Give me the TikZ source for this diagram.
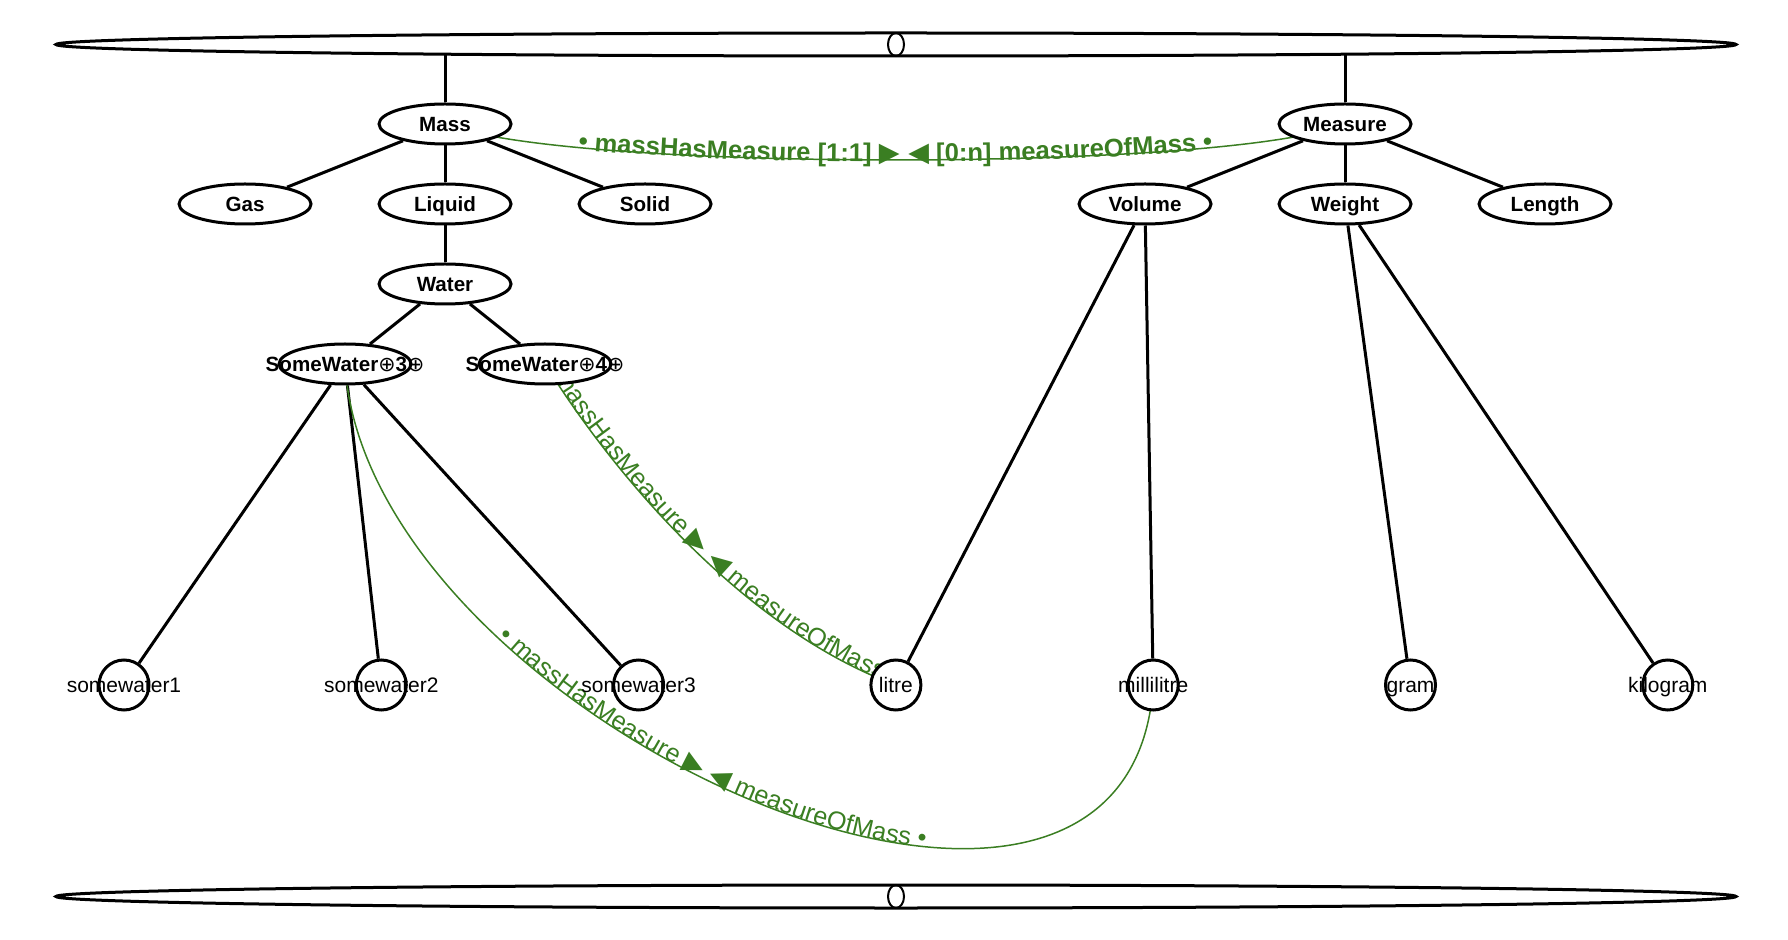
\documentclass[tikz,border=0pt]{standalone}
\usepackage{fontspec}
\setmainfont{Liberation Sans}
\newfontfamily\symfont{DejaVu Sans}
\usepackage{tikz}
\usetikzlibrary{shapes.geometric}
\usetikzlibrary{decorations.text}
\usetikzlibrary{backgrounds}
\definecolor{relgreen}{RGB}{58,126,34}
\newcommand{\classfont}{\fontsize{10.3}{12}\selectfont\bfseries}
\newcommand{\itemfont}{\fontsize{10.5}{12}\selectfont}
\newcommand{\relbf}{\fontsize{12.8}{14}\selectfont\bfseries}
\newcommand{\relrm}{\fontsize{12.6}{14}\selectfont}
\newcommand{\relsym}{\fontsize{13.5}{14}\selectfont\symfont\mdseries}
\tikzstyle{tree line}=[line width=1.5pt,draw=black]
\tikzstyle{class}=[ellipse,tree line,fill=white,inner sep=0pt,minimum width=66pt,minimum height=20pt,font=\classfont,text height=7.4pt,text depth=0pt]
\tikzstyle{bar}=[ellipse,tree line,fill=white,inner sep=0pt,minimum width=840pt,minimum height=11.5pt]
\tikzstyle{pinch}=[ellipse,draw,line width=1pt,inner sep=0pt,minimum width=8pt,minimum height=11.5pt]
\tikzstyle{item}=[circle,tree line,fill=white,inner sep=0pt,minimum size=25pt]
\tikzstyle{item text}=[font=\itemfont,text height=7.5pt,text depth=0pt,inner sep=0pt]
\tikzstyle{rel line}=[line width=0.75pt,draw=relgreen]

\begin{document}
\begin{tikzpicture}[x=0.5pt,y=0.5pt]
	\def\rowA{-124} % classes
	\def\rowB{-204}
	\def\rowC{-284}
	\def\rowD{-364} % some water
	\def\rowE{-685} % individuals
	\useasboundingbox (0,0) rectangle (1788,-940);

	% Top and bottom bars
	\node[bar] (top) at (896,-44.5) {};
	\node[pinch] at (top) {};
	\node[bar] (bottom) at (896,-896.5) {};
	\node[pinch] at (bottom) {};

	% Classes
	\node[class] (mass) at (445,\rowA) {Mass};
	\node[class] (measure) at (1345,\rowA) {Measure};
	\node[class] (gas) at (245,\rowB) {Gas};
	\node[class] (liquid) at (445,\rowB) {Liquid};
	\node[class] (solid) at (645,\rowB) {Solid};
	\node[class] (volume) at (1145,\rowB) {Volume};
	\node[class] (weight) at (1345,\rowB) {Weight};
	\node[class] (length) at (1545,\rowB) {Length};
	\node[class] (water) at (445,\rowC) {Water};
	\node[class] (sw3) at (345,\rowD) {};
	\node[font=\classfont] at (sw3) {SomeWater{\symfont\mdseries ⊕}3{\symfont\mdseries ⊕}};
	\node[class] (sw4) at (545,\rowD) {};
	\node[font=\classfont] at (sw4) {SomeWater{\symfont\mdseries ⊕}4{\symfont\mdseries ⊕}};

	% Individuals
	\foreach \n/\t [count=\i from 0] in {w1/somewater1,w2/somewater2,w3/somewater3,litre/litre,ml/millilitre,gram/gram,kg/kilogram}{
		\node[item] (\n) at ({124+257.3*\i},\rowE) {};
		\node[item text] at (\n) {\t};
	}

	\begin{pgfonlayer}{background}
		% Tree
		\draw[tree line] (mass) -- (mass |- top.center);
		\draw[tree line] (measure) -- (measure |- top.center);
		\foreach \a/\b in {mass/gas,mass/liquid,mass/solid,liquid/water,water/sw3,water/sw4,sw3/w1,sw3/w2,sw3/w3,measure/volume,measure/weight,measure/length,volume/litre,volume/ml,weight/gram,weight/kg}
			\draw[tree line] (\a) -- (\b);

		% Relations
		\draw[rel line, postaction={decorate,decoration={text along path,text align=center,text color=relgreen,raise=-1pt,
			text={|\relbf|• massHasMeasure [1:1] |\relsym|▶ ◀|\relbf| [0:n] measureOfMass •}}}]
			(mass.center) .. controls +(-22:128) and +(-158:128) .. (measure.center);
		\draw[rel line, postaction={decorate,decoration={text along path,text align=center,text color=relgreen,
			text={|\relrm|• massHasMeasure |\relsym|▶ ◀|\relrm| measureOfMass •}}}]
			(sw4.center) .. controls +(-58:150) and +(160:150) .. (litre.center);
		\draw[rel line, postaction={decorate,decoration={text along path,text align=center,text color=relgreen,
			text={|\relrm|• massHasMeasure |\relsym|▶ ◀|\relrm| measureOfMass •}}}]
			(sw3.center) .. controls +(20,-355) and +(-24,-376) .. (ml.center);
	\end{pgfonlayer}
\end{tikzpicture}
\end{document}
